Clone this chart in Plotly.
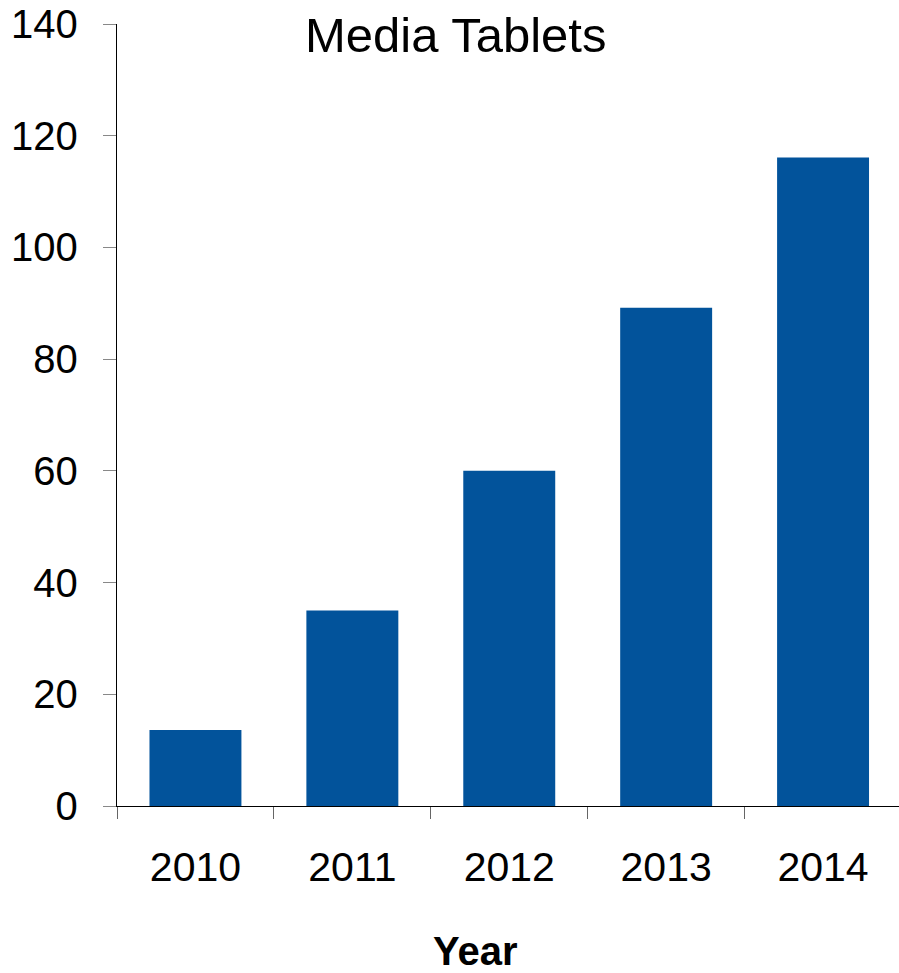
import plotly.graph_objects as go

# Media tablet shipments by year
years = ["2010", "2011", "2012", "2013", "2014"]
units = [13.6, 35, 60, 89.2, 116.1]
y_ticks = [0, 20, 40, 60, 80, 100, 120, 140]

FONT = "Liberation Sans, Arial, sans-serif"
BAR_COLOR = "#02539B"

fig = go.Figure(
    go.Bar(
        x=years,
        y=units,
        marker=dict(color=BAR_COLOR, line=dict(width=0)),
        width=0.586,
    )
)

fig.update_layout(
    width=899,
    height=973,
    margin=dict(l=116.5, r=0, t=24, b=166.7),
    paper_bgcolor="white",
    plot_bgcolor="white",
    showlegend=False,
    font=dict(family=FONT, color="black"),
    annotations=[
        dict(
            text="Media Tablets",
            xref="paper", yref="paper",
            x=0.4326, y=1.0,
            yshift=-11,
            xanchor="center", yanchor="middle",
            showarrow=False,
            font=dict(family=FONT, size=49, color="black"),
        ),
        dict(
            text="<b>Year</b>",
            xref="paper", yref="paper",
            x=0.458, y=0,
            yshift=-145,
            xanchor="center", yanchor="middle",
            showarrow=False,
            font=dict(family=FONT, size=40, color="black"),
        ),
    ],
)

fig.update_xaxes(
    type="category",
    range=[-0.5, 4.484],
    showline=True,
    linecolor="black",
    linewidth=1.3,
    ticks="outside",
    tickson="boundaries",
    ticklen=12,
    tickwidth=1,
    tickcolor="#666666",
    ticklabelstandoff=25,
    tickfont=dict(family=FONT, size=41, color="black"),
    showgrid=False,
    zeroline=False,
)

fig.update_yaxes(
    range=[0, 140],
    tickvals=y_ticks,
    ticktext=[str(v) for v in y_ticks],
    showline=True,
    linecolor="black",
    linewidth=1.3,
    ticks="outside",
    ticklen=13,
    tickwidth=1,
    tickcolor="#888888",
    ticklabelstandoff=17,
    tickfont=dict(family=FONT, size=40, color="black"),
    showgrid=False,
    zeroline=False,
)

fig.write_html("out.html")
